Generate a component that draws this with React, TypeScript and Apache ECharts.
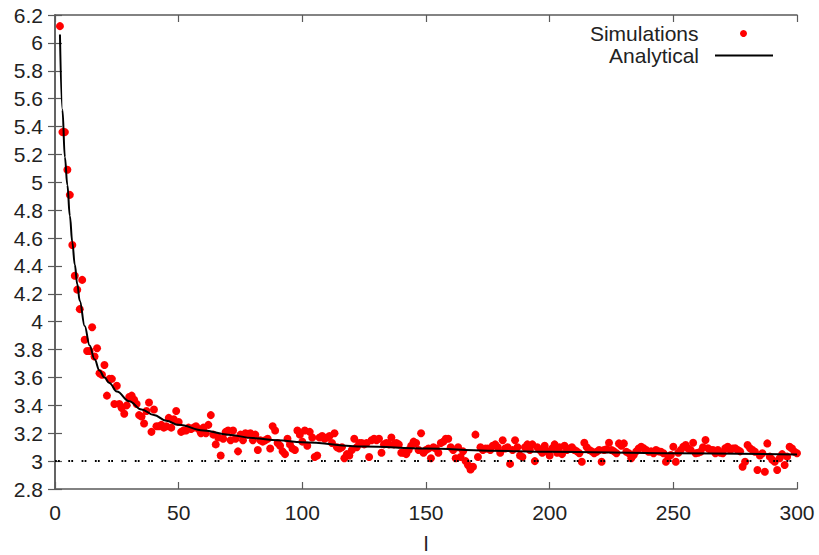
import React, { useEffect, useRef } from "react";
import * as echarts from "echarts";

const simStart = 2;
const simValues = [
  6.12, 5.36, 5.36, 5.09, 4.91, 4.55, 4.33, 4.23, 4.09,
  4.30, 3.87, 3.79, 3.79, 3.96, 3.75, 3.81, 3.63, 3.62, 3.69,
  3.47, 3.59, 3.59, 3.41, 3.54, 3.41, 3.38, 3.34, 3.40, 3.46,
  3.47, 3.44, 3.41, 3.33, 3.32, 3.27, 3.36, 3.42, 3.21, 3.37,
  3.25, 3.25, 3.26, 3.24, 3.25, 3.31, 3.24, 3.30, 3.36, 3.28,
  3.21, 3.22, 3.22, 3.24, 3.23, 3.24, 3.25, 3.23, 3.20, 3.24,
  3.20, 3.26, 3.33, 3.19, 3.12, 3.17, 3.04, 3.16, 3.21, 3.22,
  3.15, 3.22, 3.16, 3.07, 3.19, 3.15, 3.20, 3.19, 3.20, 3.15,
  3.19, 3.08, 3.15, 3.14, 3.15, 3.16, 3.09, 3.25, 3.22, 3.13,
  3.11, 3.07, 3.05, 3.16, 3.12, 3.09, 3.08, 3.22, 3.19, 3.14,
  3.22, 3.11, 3.21, 3.17, 3.03, 3.04, 3.17, 3.18, 3.16, 3.17,
  3.18, 3.13, 3.20, 3.10, 3.09, 3.10, 3.02, 3.05, 3.04, 3.08,
  3.16, 3.10, 3.13, 3.13, 3.12, 3.13, 3.03, 3.15, 3.16, 3.15,
  3.16, 3.06, 3.12, 3.13, 3.12, 3.17, 3.12, 3.13, 3.12, 3.06,
  3.06, 3.05, 3.08, 3.11, 3.14, 3.13, 3.08, 3.20, 3.06, 3.08,
  3.09, 3.02, 3.10, 3.09, 3.06, 3.13, 3.14, 3.16, 3.16, 3.10,
  3.08, 3.02, 3.10, 3.03, 3.07, 3.00, 2.97, 2.94, 2.96, 3.19,
  3.03, 3.10, 3.08, 3.09, 3.09, 3.08, 3.11, 3.12, 3.10, 3.06,
  3.15, 3.09, 3.10, 2.98, 3.08, 3.15, 3.10, 3.04, 3.03, 3.10,
  3.12, 3.08, 3.12, 3.00, 3.10, 3.08, 3.06, 3.11, 3.07, 3.04,
  3.09, 3.12, 3.06, 3.10, 3.05, 3.11, 3.08, 3.09, 3.10, 3.08,
  3.07, 3.056, 2.996, 3.132, 3.10, 3.08, 3.07, 3.056, 3.067, 3.08,
  2.996, 3.08, 3.085, 3.132, 3.08, 3.07, 3.056, 3.127, 3.11, 3.127,
  3.067, 3.056, 3.02, 3.044, 3.07, 3.09, 3.103, 3.092, 3.08, 3.067,
  3.07, 3.056, 3.08, 3.07, 3.067, 3.056, 2.996, 3.03, 3.044, 3.103,
  2.996, 3.06, 3.08, 3.103, 3.115, 3.09, 3.08, 3.132, 3.056, 3.06,
  3.067, 3.10, 3.151, 3.092, 3.08, 3.08, 3.056, 3.08, 3.06, 3.056,
  3.092, 3.103, 3.08, 3.09, 3.092, 3.08, 3.07, 2.96, 2.996, 3.115,
  3.092, 3.08, 3.067, 2.936, 3.04, 3.056, 2.924, 3.127, 3.032, 3.01,
  2.996, 2.936, 3.02, 3.05, 2.972, 3.032, 3.103, 3.09, 3.067, 3.056,
];

const curveL = [2, 3, 4, 5, 6, 7, 8, 9, 10, 12, 14, 16, 18, 20, 22, 25, 30, 35, 40, 45, 50, 60, 70, 80, 90, 100, 125, 150, 175, 200, 250, 300];
const curveV = [6.06, 5.52, 5.18, 4.98, 4.76, 4.57, 4.41, 4.27, 4.15, 3.97, 3.83, 3.73, 3.65, 3.6, 3.56, 3.5, 3.43, 3.37, 3.33, 3.29, 3.26, 3.22, 3.19, 3.165, 3.15, 3.135, 3.105, 3.09, 3.075, 3.067, 3.056, 3.048];

const asymptote = 3;
const xMin = 0, xMax = 300, xStep = 50;
const yMin = 2.8, yMax = 6.2, yStep = 0.2;

const FONT = "'Liberation Sans', Arial, sans-serif";
const FS = 21;

export default function App() {
  const ref = useRef<HTMLDivElement>(null);
  useEffect(() => {
    if (!ref.current) return;
    const chart = echarts.init(ref.current, null, { renderer: "svg" });
    const frame = "#5a5a5a";
    const txt = "#222";
    const simData = simValues.map((v, i) => [simStart + i, v]);
    const curveData = curveL.map((l, i) => [l, curveV[i]]);
    const axisCommon = {
      axisLine: { show: true, lineStyle: { color: frame, width: 1.5 } },
      axisTick: { show: true, inside: true, length: 7, lineStyle: { color: frame, width: 1.2 } },
      splitLine: { show: false },
    };
    const legendText = { fontFamily: FONT, fontSize: FS, color: txt, lineHeight: 20 };
    chart.setOption({
      animation: false,
      backgroundColor: "#fff",
      textStyle: { fontFamily: FONT },
      grid: { left: 55, top: 15, right: 22, bottom: 66, containLabel: false, outerBoundsMode: "none" },
      legend: [
        {
          data: [{ name: "Simulations", icon: "circle" }],
          right: 72,
          top: 23,
          padding: 0,
          orient: "vertical",
          align: "right",
          itemWidth: 80,
          itemHeight: 7,
          selectedMode: false,
          textStyle: legendText,
        },
        {
          data: [{ name: "Analytical", icon: "path://M0,0H58V2H0Z" }],
          right: 46,
          top: 45,
          padding: 0,
          orient: "vertical",
          align: "right",
          itemWidth: 80,
          itemHeight: 2,
          symbolKeepAspect: true,
          selectedMode: false,
          textStyle: legendText,
        },
      ],
      xAxis: [
        {
          type: "value",
          min: xMin,
          max: xMax,
          interval: xStep,
          position: "bottom",
          name: "l",
          nameLocation: "middle",
          nameGap: 44,
          nameTextStyle: { fontFamily: FONT, fontSize: FS, color: txt },
          axisLabel: { fontFamily: FONT, fontSize: FS, color: txt, margin: 13 },
          ...axisCommon,
        },
        {
          type: "value",
          min: xMin,
          max: xMax,
          interval: xStep,
          position: "top",
          axisLabel: { show: false },
          ...axisCommon,
        },
      ],
      yAxis: [
        {
          type: "value",
          min: yMin,
          max: yMax,
          interval: yStep,
          position: "left",
          axisLabel: { fontFamily: FONT, fontSize: FS, color: txt, margin: 12 },
          ...axisCommon,
        },
        {
          type: "value",
          min: yMin,
          max: yMax,
          interval: yStep,
          position: "right",
          axisLabel: { show: false },
          ...axisCommon,
        },
      ],
      series: [
        {
          name: "Simulations",
          type: "scatter",
          data: simData,
          symbol: "circle",
          symbolSize: 8,
          itemStyle: { color: "#f00", opacity: 1 },
          z: 2,
        },
        {
          name: "Analytical",
          type: "line",
          data: curveData,
          symbol: "none",
          showSymbol: false,
          smooth: 0.4,
          smoothMonotone: "x",
          lineStyle: { color: "#000", width: 2 },
          itemStyle: { color: "#000" },
          z: 3,
          markLine: {
            silent: true,
            symbol: "none",
            label: { show: false },
            lineStyle: { color: "#000", width: 2, type: [1.8, 1.2, 1.8, 8.5] },
            data: [{ yAxis: asymptote }],
          },
        },
      ],
    });
    return () => chart.dispose();
  }, []);
  return (
    <div
      ref={ref}
      style={{ position: "fixed", left: 0, top: 0, width: 819, height: 555, background: "#fff" }}
    />
  );
}
